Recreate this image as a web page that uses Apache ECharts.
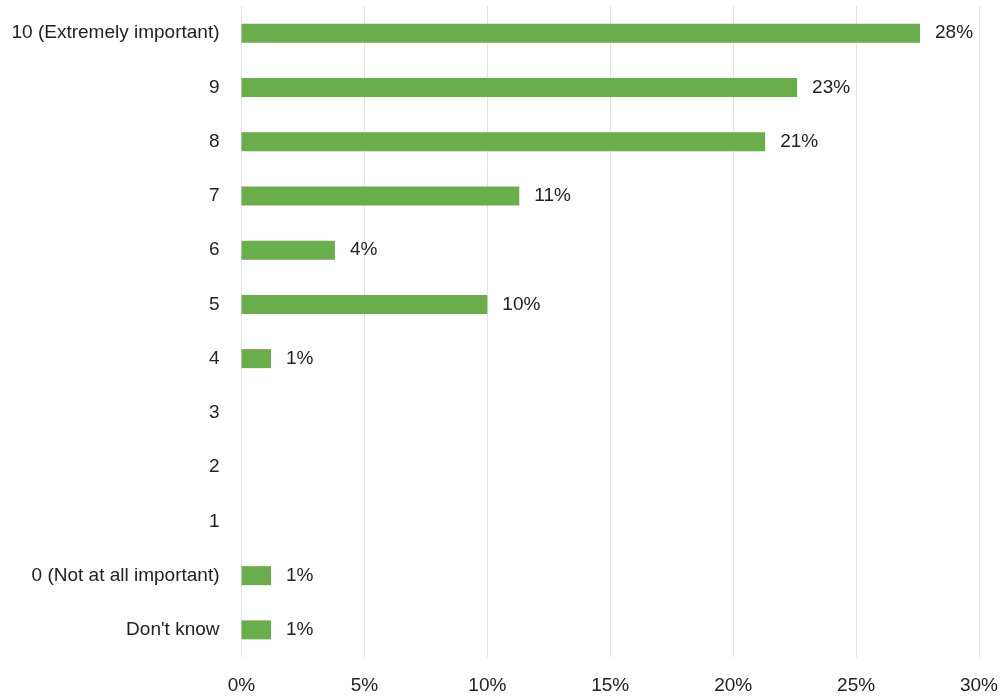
<!DOCTYPE html>
<html>
<head>
<meta charset="utf-8">
<script src="https://cdn.jsdelivr.net/npm/echarts@6/dist/echarts.min.js"></script>
<style>
  html, body { margin: 0; padding: 0; background: #fff; }
  #chart { width: 1004px; height: 698px; }
</style>
</head>
<body>
<div id="chart"></div>
<script>
// Importance ratings, listed top to bottom
const categories = [
  "10 (Extremely important)", "9", "8", "7", "6", "5", "4", "3", "2", "1",
  "0 (Not at all important)", "Don't know"
];
// Share of respondents (%)
const shares = [27.6, 22.6, 21.3, 11.3, 3.8, 10.0, 1.2, null, null, null, 1.2, 1.2];
// Value axis ticks (%)
const xTicks = [0, 5, 10, 15, 20, 25, 30];

const chart = echarts.init(document.getElementById('chart'), null, { renderer: 'canvas' });
const font = '"Liberation Sans", Arial, sans-serif';
const fontSize = 19;

chart.setOption({
  animation: false,
  backgroundColor: '#ffffff',
  grid: {
    left: 241.5, right: 25, top: 6, bottom: 41,
    containLabel: false, outerBoundsMode: 'none'
  },
  xAxis: {
    type: 'value',
    min: xTicks[0],
    max: xTicks[xTicks.length - 1],
    interval: xTicks[1] - xTicks[0],
    axisLine: { show: false },
    axisTick: { show: false },
    splitLine: { show: true, lineStyle: { color: '#e3e3e3', width: 1 } },
    axisLabel: {
      formatter: v => v + '%',
      color: '#222',
      fontFamily: font,
      fontSize: fontSize,
      margin: 19
    }
  },
  yAxis: {
    type: 'category',
    data: categories,
    inverse: true,
    axisLine: { show: false },
    axisTick: { show: false },
    splitLine: { show: false },
    axisLabel: {
      color: '#222',
      fontFamily: font,
      fontSize: fontSize,
      margin: 22
    }
  },
  series: [{
    type: 'bar',
    data: shares,
    barWidth: 19,
    itemStyle: { color: '#6aae4b' },
    label: {
      show: true,
      position: 'right',
      distance: 15,
      formatter: p => Math.round(p.value) + '%',
      color: '#222',
      fontFamily: font,
      fontSize: fontSize
    }
  }]
});
</script>
</body>
</html>
